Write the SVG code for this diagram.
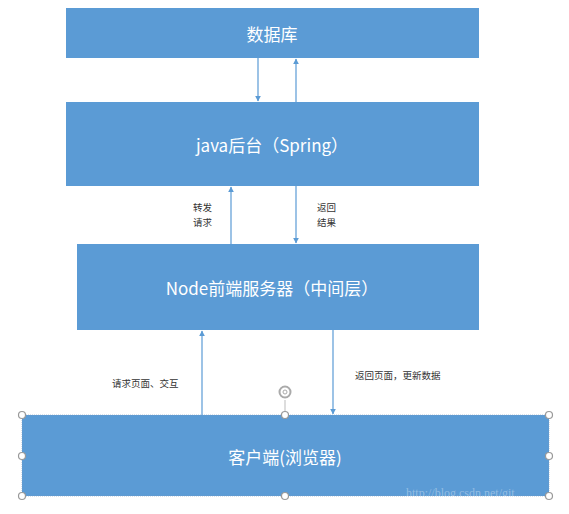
<svg xmlns="http://www.w3.org/2000/svg" width="569" height="514" viewBox="0 0 569 514">
<style>
.box{fill:#5b9bd5;}
.t{font-family:"Noto Sans CJK SC","Noto Sans",sans-serif;fill:#ffffff;font-size:17px;text-anchor:middle;dominant-baseline:central;}
.lbl{font-family:"Noto Sans CJK SC",sans-serif;fill:#333333;font-size:9.5px;}
.c{stroke:#5b9bd5;stroke-width:1.2;fill:none;marker-end:url(#ah);}
.h{fill:#ffffff;stroke:#999999;stroke-width:1.2;}
</style>
<defs>
<marker id="ah" viewBox="0 0 10 10" refX="9" refY="5" markerWidth="6" markerHeight="6" orient="auto" markerUnits="userSpaceOnUse">
<path d="M0,0 L10,5 L0,10 z" fill="#5b9bd5"/>
</marker>
</defs>
<rect width="569" height="514" fill="#ffffff"/>
<g id="db"><rect class="box" x="66" y="8" width="413" height="50"/><text class="t" x="272" y="33">数据库</text></g>
<g id="java"><rect class="box" x="66" y="102" width="413" height="84"/><text class="t" x="272" y="144">java后台（Spring）</text></g>
<g id="node"><rect class="box" x="77" y="244" width="402" height="86"/><text class="t" x="272" y="287">Node前端服务器（中间层）</text></g>
<g id="client"><rect class="box" x="22" y="415" width="527" height="81" stroke="#7f9fbf" stroke-width="0.6" stroke-dasharray="1,1"/><text class="t" x="285" y="456">客户端(浏览器)</text></g>
<g id="connectors">
<line class="c" x1="258" y1="58" x2="258" y2="101"/>
<line class="c" x1="296" y1="102" x2="296" y2="59"/>
<line class="c" x1="231" y1="244" x2="231" y2="187"/>
<line class="c" x1="296" y1="186" x2="296" y2="243"/>
<line class="c" x1="202" y1="415" x2="202" y2="331"/>
<line class="c" x1="333" y1="330" x2="333" y2="414"/>
</g>
<g id="labels">
<text class="lbl" x="193" y="211">转发</text>
<text class="lbl" x="193" y="226">请求</text>
<text class="lbl" x="317" y="211">返回</text>
<text class="lbl" x="317" y="226">结果</text>
<text class="lbl" x="112" y="387">请求页面、交互</text>
<text class="lbl" x="355" y="379">返回页面，更新数据</text>
</g>
<g id="selection">
<line x1="285" y1="400" x2="285" y2="415" stroke="#bbbbbb" stroke-width="1"/>
<circle cx="285" cy="392" r="5.5" fill="none" stroke="#aaaaaa" stroke-width="2"/>
<circle cx="285" cy="392" r="2" fill="none" stroke="#aaaaaa" stroke-width="1"/>
<circle class="h" cx="22" cy="415" r="3.5"/><circle class="h" cx="285" cy="415" r="3.5"/><circle class="h" cx="549" cy="415" r="3.5"/>
<circle class="h" cx="22" cy="456" r="3.5"/><circle class="h" cx="549" cy="456" r="3.5"/>
<circle class="h" cx="22" cy="496" r="3.5"/><circle class="h" cx="285" cy="496" r="3.5"/><circle class="h" cx="549" cy="496" r="3.5"/>
</g>
<text x="406" y="497" font-family="Liberation Serif,serif" font-size="12" fill="#ffffff" fill-opacity="0.35">http://blog.csdn.net/git</text>
</svg>
